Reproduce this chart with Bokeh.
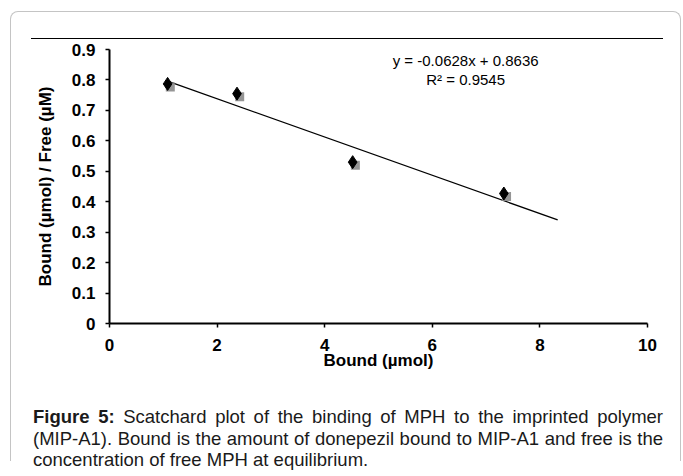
from bokeh.plotting import figure
from bokeh.models import Div, FixedTicker, Label, ColumnDataSource, Range1d
from bokeh.layouts import column
from bokeh.transform import dodge
from bokeh.embed import file_html
from bokeh.resources import INLINE

# ---- data ----
bound = [1.08, 2.37, 4.52, 7.33]          # Bound (µmol)
ratio = [0.787, 0.755, 0.530, 0.427]      # Bound / Free
slope = -0.0628
intercept = 0.8636
r_squared = 0.9545
forecast_forward = 1.0

x_ticks = [0, 2, 4, 6, 8, 10]
x_tick_labels = ["0", "2", "4", "6", "8", "10"]
y_ticks = [0, 0.1, 0.2, 0.3, 0.4, 0.5, 0.6, 0.7, 0.8, 0.9]
y_tick_labels = ["0", "0.1", "0.2", "0.3", "0.4", "0.5", "0.6", "0.7", "0.8", "0.9"]

x_title = "Bound (µmol)"
y_title = "Bound (µmol) / Free (µM)"
caption_bold = "Figure 5:"
caption_text = ("Scatchard plot of the binding of MPH to the imprinted polymer "
                "(MIP-A1). Bound is the amount of donepezil bound to MIP-A1 and "
                "free is the concentration of free MPH at equilibrium.")

FONT = "Liberation Sans"

src = ColumnDataSource(dict(x=bound, y=ratio))
fit_x = [bound[0], bound[-1] + forecast_forward]
fit_y = [slope * v + intercept for v in fit_x]
fit_src = ColumnDataSource(dict(x=fit_x, y=fit_y))

p = figure(frame_width=538, frame_height=274,
           min_border_left=98, min_border_right=20,
           min_border_top=10, min_border_bottom=45,
           x_range=Range1d(0, 10), y_range=Range1d(0, 0.9),
           output_backend="svg", toolbar_location=None)
p.outline_line_color = None
p.xgrid.visible = False
p.ygrid.visible = False

for ax in (p.xaxis[0], p.yaxis[0]):
    ax.axis_line_width = 2
    ax.axis_line_color = "black"
    ax.major_tick_line_width = 1.5
    ax.major_tick_line_color = "black"
    ax.major_tick_in = 0
    ax.major_tick_out = 4
    ax.minor_tick_line_color = None
    ax.major_label_text_font = FONT
    ax.major_label_text_font_style = "bold"
    ax.major_label_text_font_size = "17px"
    ax.major_label_text_color = "black"
    ax.axis_label_text_font = FONT
    ax.axis_label_text_font_style = "bold"
    ax.axis_label_text_font_size = "17px"
    ax.axis_label_text_color = "black"

p.xaxis.ticker = FixedTicker(ticks=x_ticks)
p.xaxis.major_label_overrides = {t: l for t, l in zip(x_ticks, x_tick_labels)}
p.yaxis.ticker = FixedTicker(ticks=y_ticks)
p.yaxis.major_label_overrides = {t: l for t, l in zip(y_ticks, y_tick_labels)}
p.yaxis.major_label_standoff = 10
p.xaxis.major_label_standoff = 11

p.xaxis.axis_label = x_title
p.xaxis.axis_label_standoff = -3
p.yaxis.axis_label = y_title
p.yaxis.axis_label_standoff = 14

# trendline
p.line("x", "y", source=fit_src, line_color="black", line_width=1.3)

# markers: grey shadow + black diamond
p.scatter(dodge("x", 0.05), dodge("y", -0.01), source=src, marker="square",
          size=9, fill_color="#8a8a8a", line_color=None, fill_alpha=0.9)
p.scatter("x", "y", source=src, marker="diamond", size=13,
          fill_color="black", line_color="black")

eq_text = "y = {:.4f}x + {:.4f}".format(slope, intercept)
r2_text = "R² = {:.4f}".format(r_squared)
p.add_layout(Label(x=6.62, y=0.864, text=eq_text, text_align="center",
                   text_baseline="middle", text_font=FONT,
                   text_font_size="15px", text_color="black"))
p.add_layout(Label(x=6.62, y=0.801, text=r2_text, text_align="center",
                   text_baseline="middle", text_font=FONT,
                   text_font_size="15px", text_color="black"))

top_rule = Div(text="", width=632, height=1, margin=(26, 0, 0, 20),
               styles={"background-color": "black"})

caption = Div(
    text=('<div style="font-family:\'Liberation Sans\',Arial,sans-serif;'
          'font-size:18.5px;line-height:21.5px;text-align:justify;color:#1a1a1a;'
          'width:630px;">'
          '<b>' + caption_bold + '</b> ' + caption_text + '</div>'),
    width=630, height=55, margin=(34, 0, 0, 22),
    styles={"overflow": "visible"})

layout = column(top_rule, p, caption, width=671, margin=(11, 0, 0, 10),
                styles={"border": "1px solid #c4c4c4", "border-bottom": "none",
                        "border-radius": "8px 8px 0 0"})

open("out.html", "w").write(file_html(layout, INLINE))
